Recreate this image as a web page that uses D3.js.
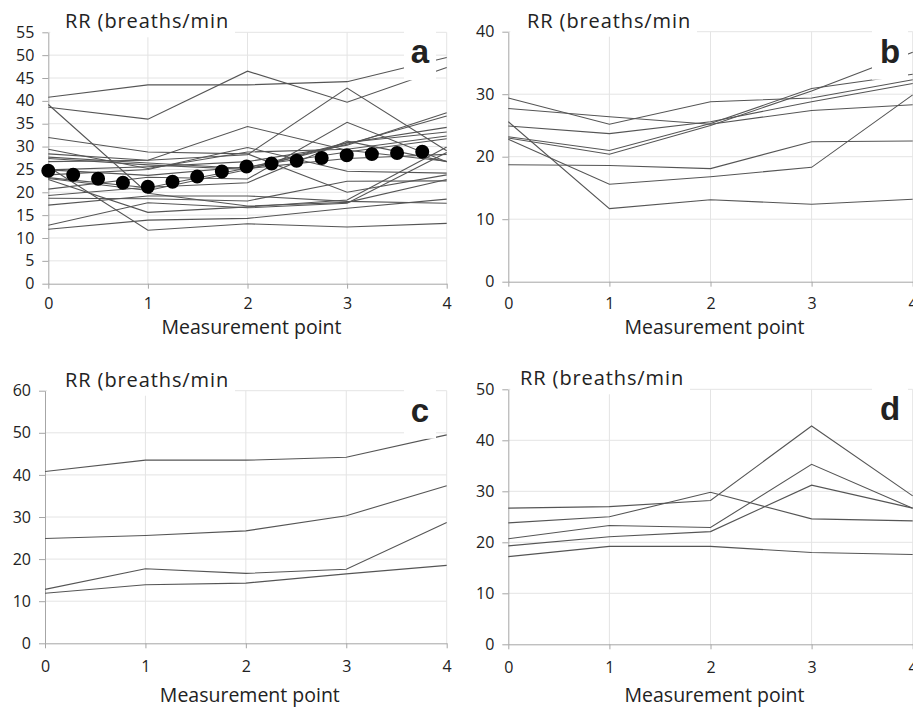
<!DOCTYPE html>
<html>
<head>
<meta charset="utf-8">
<script src="https://cdn.jsdelivr.net/npm/d3@7"></script>
<style>
  body { margin: 0; background: #fff; }
  text { font-family: "Open Sans", sans-serif; fill: #222; }
</style>
</head>
<body>
<svg id="chart" width="913" height="708"></svg>
<script>
// measurement points on the x axis
const xPoints = [0, 1, 2, 3, 4];

// panel b subjects
const seriesB = [
  [29.4, 25.2, 28.8, 29.4, 32.3],
  [27.7, 26.4, 25.2, 27.4, 28.3],
  [24.9, 23.7, 25.6, 28.8, 31.7],
  [23.2, 21.0, 25.3, 30.9, 33.2],
  [23.0, 20.4, 25.0, 30.5, 36.7],
  [22.8, 15.6, 16.8, 18.3, 29.9],
  [25.6, 11.7, 13.1, 12.4, 13.2],
  [18.7, 18.6, 18.1, 22.4, 22.5]
];

// panel c subjects
const seriesC = [
  [40.8, 43.5, 43.5, 44.2, 49.5],
  [24.9, 25.6, 26.7, 30.3, 37.4],
  [12.8, 17.7, 16.6, 17.6, 28.7],
  [11.9, 13.9, 14.3, 16.5, 18.5]
];

// panel d subjects
const seriesD = [
  [26.7, 27.0, 28.2, 42.8, 29.1],
  [23.8, 25.0, 29.8, 24.6, 24.2],
  [20.7, 23.3, 22.9, 35.3, 26.7],
  [19.3, 21.1, 22.1, 31.2, 26.7],
  [17.2, 19.2, 19.2, 18.0, 17.6]
];

// subjects only in panel a
const seriesOther = [
  [38.6, 36.0, 46.5, 39.7, 47.3],
  [39.2, 19.8, 17.0, 17.8, 22.8],
  [32.0, 28.8, 28.4, 20.0, 23.8],
  [28.4, 27.0, 34.4, 29.2, 26.8],
  [27.4, 26.0, 25.0, 30.8, 34.2]
];

// mean of all subjects (panel a, dotted)
const meanA = [24.7, 21.2, 25.7, 28.1, 29.1];

const yTitle = "RR (breaths/min";
const xTitle = "Measurement point";

const panels = [
  { letter: "a", x0: 48.3, x1: 446.7, y0: 283.7, y1: 32.3, yMax: 55, yStep: 5,
    series: seriesB.concat(seriesC, seriesD, seriesOther), mean: meanA,
    titleX: 65, titleY: 28, xLabelY: 334, tickY: 309, letterX: 420, boxW: 32 },
  { letter: "b", x0: 508.3, x1: 912.7, y0: 281.7, y1: 31.7, yMax: 40, yStep: 10,
    series: seriesB, mean: null,
    titleX: 527, titleY: 28, xLabelY: 334, tickY: 309, letterX: 890, boxW: 36 },
  { letter: "c", x0: 45, x1: 446.7, y0: 643.3, y1: 390.7, yMax: 60, yStep: 10,
    series: seriesC, mean: null,
    titleX: 65, titleY: 387, xLabelY: 702, tickY: 672, letterX: 420, boxW: 32 },
  { letter: "d", x0: 508.3, x1: 912.7, y0: 644.3, y1: 389.3, yMax: 50, yStep: 10,
    series: seriesD, mean: null,
    titleX: 520, titleY: 385, xLabelY: 702, tickY: 673, letterX: 890, boxW: 36 }
];

const svg = d3.select("#chart");

panels.forEach(function (p) {
  const g = svg.append("g");
  const x = d3.scaleLinear().domain([0, 4]).range([p.x0, p.x1]);
  const y = d3.scaleLinear().domain([0, p.yMax]).range([p.y0, p.y1]);
  const yTicks = d3.range(0, p.yMax + 0.01, p.yStep);

  // gridlines
  g.append("g")
    .selectAll("line")
    .data(yTicks.slice(1))
    .join("line")
    .attr("x1", p.x0).attr("x2", p.x1)
    .attr("y1", (d) => y(d)).attr("y2", (d) => y(d))
    .attr("stroke", "#e4e4e4");
  g.append("g")
    .selectAll("line")
    .data(xPoints.slice(1))
    .join("line")
    .attr("x1", (d) => x(d)).attr("x2", (d) => x(d))
    .attr("y1", p.y0).attr("y2", p.y1)
    .attr("stroke", "#e4e4e4");

  // axes
  const xAxis = g.append("g")
    .attr("transform", `translate(0,${p.y0})`)
    .call(d3.axisBottom(x).tickValues(xPoints).tickFormat(d3.format("d"))
      .tickSize(5).tickSizeOuter(0).tickPadding(9));
  const yAxis = g.append("g")
    .attr("transform", `translate(${p.x0},0)`)
    .call(d3.axisLeft(y).tickValues(yTicks).tickSize(6).tickSizeOuter(0).tickPadding(8));
  [xAxis, yAxis].forEach(function (ax) {
    ax.select(".domain").attr("stroke", "#a6a6a6");
    ax.selectAll(".tick line").attr("stroke", "#a6a6a6");
    ax.selectAll(".tick text")
      .style("font-family", "'Open Sans', sans-serif")
      .style("font-size", "16px")
      .attr("fill", "#222");
  });
  xAxis.selectAll(".tick text").attr("dy", null)
    .attr("y", p.tickY - p.y0);

  // subject lines
  const line = d3.line().x((d, i) => x(xPoints[i])).y((d) => y(d));
  g.append("g")
    .selectAll("path")
    .data(p.series)
    .join("path")
    .attr("d", line)
    .attr("fill", "none")
    .attr("stroke", "#555")
    .attr("stroke-width", 1.1);

  // mean as heavy round dots
  if (p.mean) {
    g.append("path")
      .attr("d", line(p.mean))
      .attr("fill", "none")
      .attr("stroke", "#000")
      .attr("stroke-width", 14)
      .attr("stroke-linecap", "round")
      .attr("stroke-dasharray", "0 25.2");
  }

  // title and panel letter sit on white boxes
  g.append("rect")
    .attr("x", p.x0 + 2).attr("y", p.y1 - 28)
    .attr("width", p.titleX + 168 - p.x0).attr("height", 33)
    .attr("fill", "#fff");
  g.append("text")
    .attr("x", p.titleX).attr("y", p.titleY)
    .style("font-size", "20px")
    .style("letter-spacing", "0.9px")
    .text(yTitle);

  g.append("rect")
    .attr("x", p.letterX - p.boxW / 2).attr("y", p.y1 - 2)
    .attr("width", p.boxW).attr("height", 50)
    .attr("fill", "#fff");
  g.append("text")
    .attr("x", p.letterX).attr("y", p.y1 + 31)
    .attr("text-anchor", "middle")
    .style("font-family", "'Liberation Sans', Arial, sans-serif")
    .style("font-weight", "bold")
    .style("font-size", "33px")
    .attr("fill", "#000")
    .text(p.letter);

  g.append("text")
    .attr("x", (p.x0 + Math.min(p.x1, 913)) / 2 + 4)
    .attr("y", p.xLabelY)
    .attr("text-anchor", "middle")
    .style("font-size", "19.5px")
    .text(xTitle);
});
</script>
</body>
</html>
